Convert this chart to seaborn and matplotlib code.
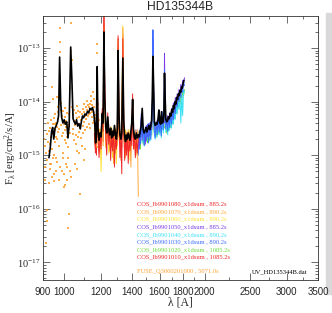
import matplotlib
matplotlib.use('Agg')
import matplotlib.pyplot as plt
import matplotlib.ticker as mticker
from matplotlib.patches import Rectangle
import seaborn as sns
import pandas as pd

# fluxes below are in units of 1e-15 erg/cm2/s/A
FLUX_UNIT = 1e-15

# FUSE points (orange dots)
fuse_wave = [906, 908, 909, 911, 913, 914, 916, 917, 919, 920, 922, 923, 925, 926, 928, 930, 931, 933, 935, 936,
             938, 939, 941, 943, 944, 946, 948, 949, 951, 953, 954, 956, 958, 960, 962, 964, 965, 967, 969, 971,
             973, 975, 977, 978, 979, 981, 983, 985, 987, 989, 991, 993, 995, 997, 999, 1001, 1003, 1005, 1008, 1010,
             1012, 1014, 1016, 1018, 1020, 1022, 1024, 1026, 1028, 1031, 1033, 1036, 1038, 1040, 1042, 1045, 1047, 1050, 1052, 1055,
             1058, 1060, 1063, 1066, 1068, 1071, 1074, 1077, 1080, 1082, 1085, 1088, 1091, 1094, 1097, 1100, 1103, 1106, 1109, 1112,
             1115, 1118, 1121, 1124, 1127, 1130, 1133, 1136, 1139, 1142, 1145, 1148, 1151, 1154, 1157, 1160, 1163, 1166, 1169, 1172,
             1175, 1176, 1177, 1179, 1181, 1183, 1186,
             957, 963, 968, 974, 986, 994, 1002, 1007, 1013, 1023, 1044, 1049, 1057, 1062, 1069, 1076, 1083, 1090, 1096, 1104,
             1110, 1116, 1123, 1129, 1135, 1141, 1147, 1153, 1159, 1165, 1171, 1184,
             948, 972, 990, 1004, 1035, 1065, 1100, 932, 940, 945, 952, 959, 966, 980, 992, 998, 1006, 1011, 1019, 1027]
fuse_flux = [2.0, 0.6, 1.5, 0.35, 0.023, 1.1, 0.06, 2.5, 0.095, 0.8, 4.0, 1.8, 0.3, 1.2, 2.8, 0.55, 1.6, 3.2, 2.2, 0.7,
             4.5, 19, 2.6, 1.3, 3.8, 11, 2.4, 5.0, 0.33, 1.8, 3.0, 6.0, 2.2, 0.9, 4.0, 12, 3.4, 6.5, 2.7, 4.8,
             1.5, 9.0, 85, 130, 240, 30, 7.0, 3.6, 5.5, 2.3, 4.2, 6.8, 1.1, 3.9, 0.25, 5.2, 2.9, 7.5, 1.7, 4.4,
             2.2, 0.6, 3.3, 0.044, 1.4, 5.8, 0.08, 2.6, 18, 300, 90, 45, 60, 8.0, 3.1, 5.6, 1.9, 4.3, 0.7, 3.6,
             6.2, 2.4, 4.9, 1.2, 3.8, 6.6, 2.7, 5.1, 0.19, 3.2, 4.6, 2.1, 5.9, 3.5, 7.2, 4.1, 6.4, 1.3, 5.3, 8.1,
             4.7, 6.9, 10.5, 5.5, 7.8, 3.9, 9.2, 6.1, 12.5, 7.4, 5.2, 8.8, 15, 6.7, 4.4, 7.9, 3.1, 1.6, 2.4, 5.0,
             120, 80, 35, 9.0, 2.2, 1.4, 3.0,
             3.9, 2.0, 8.0, 3.1, 9.5, 2.6, 1.9, 3.4, 6.1, 3.7, 2.5, 7.1, 1.6, 8.4, 2.2, 1.1, 6.3, 1.5, 2.6, 9.1,
             2.9, 3.3, 8.6, 5.9, 3.2, 10.2, 6.3, 4.0, 11.0, 5.6, 3.6, 4.6,
             0.45, 0.35, 0.5, 0.28, 0.4, 0.55, 0.8, 0.7, 0.4, 0.9, 1.0, 0.5, 0.75, 0.6, 0.9, 0.45, 0.7, 0.35, 0.9, 0.5]

# COS G130M exposures
g130_wave = [1160, 1166, 1172, 1176, 1181, 1187, 1193, 1199, 1206, 1211, 1216, 1221, 1227, 1233, 1239, 1245,
             1251, 1257, 1263, 1269, 1275, 1281, 1287, 1293, 1299, 1304, 1310, 1316, 1322, 1328, 1335, 1341,
             1347, 1353, 1359, 1365, 1371, 1377, 1383, 1389, 1395, 1401, 1407, 1413, 1420, 1427, 1434, 1441]
cos_1080 = [2.6, 1.1, 2.9, 38, 2.2, 0.9, 2.4, 1.3, 7.5, 2.8, 600, 16, 2.1, 1.0, 6.2, 1.6,
            3.1, 0.8, 2.5, 1.2, 2.9, 0.6, 2.4, 1.3, 2.7, 170, 3.8, 0.9, 2.3, 0.45, 150, 3.6,
            0.8, 2.2, 1.0, 2.6, 0.7, 2.1, 1.2, 2.8, 1.5, 14, 1.3, 2.4, 0.9, 2.2, 1.1, 2.0]
cos_1070 = [1.8, 3.2, 1.4, 25, 1.6, 3.0, 1.1, 2.9, 4.0, 1.5, 300, 8, 3.3, 1.8, 3.9, 2.7,
            1.2, 3.4, 1.4, 3.0, 0.7, 2.8, 1.1, 3.1, 1.5, 120, 2.2, 3.0, 0.8, 2.9, 240, 1.9,
            3.1, 0.9, 2.7, 1.2, 3.0, 1.4, 2.6, 0.6, 3.2, 9, 2.6, 1.8, 2.9, 1.0, 3.0, 0.17]
cos_1060 = [3.0, 1.5, 3.4, 20, 2.8, 1.2, 3.1, 0.5, 5.5, 2.6, 250, 10, 1.4, 3.0, 5.0, 1.1,
            2.9, 1.6, 3.3, 0.9, 2.6, 1.7, 3.2, 0.7, 2.5, 140, 1.9, 2.7, 1.5, 3.0, 260, 2.4,
            1.2, 3.0, 1.7, 2.5, 1.3, 2.9, 0.8, 2.5, 1.9, 11, 2.9, 1.3, 2.6, 1.8, 2.3, 2.8]
cos_1010 = [2.0, 2.7, 1.0, 30, 3.0, 1.6, 2.8, 1.9, 6.5, 1.8, 450, 14, 2.6, 2.2, 4.5, 2.3,
            1.5, 2.6, 1.9, 2.4, 1.6, 3.2, 1.8, 2.2, 1.9, 150, 2.9, 1.7, 2.8, 1.4, 180, 2.7,
            2.0, 1.4, 2.3, 1.6, 2.4, 1.8, 2.3, 1.7, 2.6, 12, 1.9, 2.1, 1.5, 2.5, 1.7, 2.3]

# COS G160M exposures
g160_wave = [1400, 1408, 1416, 1424, 1432, 1440, 1448, 1456, 1462, 1468, 1476, 1484, 1492, 1500, 1508, 1516,
             1524, 1532, 1540, 1545, 1549, 1553, 1558, 1566, 1574, 1582, 1590, 1598, 1606, 1614, 1622, 1630,
             1636, 1640, 1644, 1650, 1658, 1666, 1674, 1682, 1690, 1698, 1706, 1714, 1722, 1730, 1738, 1746,
             1754, 1762, 1770, 1778, 1786, 1794, 1802, 1810]
cos_1050 = [6.0, 2.4, 1.7, 3.0, 1.5, 2.7, 1.3, 3.2, 5.0, 1.9, 3.3, 2.6, 1.6, 3.6, 2.2, 3.9,
            2.3, 4.2, 3.0, 10, 150, 25, 4.1, 3.0, 3.1, 4.6, 3.2, 5.2, 3.3, 5.4, 4.0, 5.2,
            4.0, 80, 12, 4.6, 3.8, 5.5, 4.0, 6.2, 4.6, 7.5, 5.6, 9.5, 7.0, 12, 9.0, 14,
            11, 17, 14, 21, 17, 25, 22, 28]
cos_1040 = [7.0, 1.6, 2.4, 1.3, 2.2, 1.6, 1.5, 2.5, 4.0, 1.7, 2.8, 1.5, 3.0, 1.8, 3.2, 1.7,
            3.4, 1.9, 3.7, 9, 120, 20, 2.7, 2.0, 3.5, 2.2, 4.0, 2.4, 3.7, 2.1, 4.8, 2.6,
            4.2, 30, 7, 2.7, 3.9, 2.4, 4.2, 2.9, 4.7, 3.2, 5.4, 3.8, 6.4, 4.7, 8.2, 5.9,
            9.6, 7.2, 11.5, 4.0, 13.5, 5.5, 16.5, 15]
cos_1030 = [8.0, 1.6, 2.8, 1.3, 2.5, 1.0, 2.9, 1.6, 6.0, 2.2, 3.6, 1.5, 3.4, 1.9, 3.8, 1.7,
            4.0, 2.0, 4.6, 12, 220, 30, 3.2, 2.1, 4.2, 2.4, 5.0, 2.7, 4.4, 2.3, 6.5, 3.0,
            5.0, 40, 9, 3.1, 4.9, 2.8, 5.2, 3.3, 6.0, 3.8, 7.0, 4.6, 8.5, 6.0, 11, 8.0,
            13, 10, 16, 12, 19, 15, 23, 20]
cos_1020 = [5.0, 2.0, 1.4, 2.4, 1.2, 2.1, 1.7, 1.3, 4.5, 2.5, 1.6, 2.9, 1.8, 3.1, 1.7, 3.3,
            1.9, 3.5, 2.4, 8, 100, 18, 2.8, 3.4, 2.2, 3.7, 2.5, 4.0, 2.6, 4.1, 3.0, 3.9,
            3.2, 25, 6, 3.5, 2.6, 4.1, 2.9, 4.6, 3.3, 5.3, 3.9, 6.4, 4.8, 7.9, 6.0, 9.5,
            7.4, 11, 9, 13, 11, 15, 13, 17]

# binned spectrum UV_HD135344B.dat (black)
bin_wave = [927, 933, 939, 944, 949, 955, 961, 967, 972, 977, 982, 987, 993, 999, 1005, 1012, 1018, 1024, 1032, 1038,
            1044, 1050, 1056, 1062, 1068, 1075, 1082, 1088, 1094, 1100, 1107, 1114, 1121, 1128, 1135, 1142, 1149, 1156, 1162, 1167,
            1171, 1176, 1181, 1187, 1193, 1199, 1206, 1211, 1216, 1221, 1227, 1233, 1239, 1245, 1251, 1257, 1263, 1269, 1275, 1281,
            1287, 1293, 1299, 1304, 1310, 1316, 1322, 1328, 1335, 1341, 1347, 1353, 1359, 1365, 1371, 1377, 1383, 1389, 1395, 1401,
            1407, 1413, 1420, 1427, 1434, 1441, 1448, 1455, 1462, 1469, 1476, 1483, 1490, 1497, 1504, 1511, 1518, 1525, 1532, 1539,
            1544, 1549, 1554, 1560, 1567, 1574, 1581, 1588, 1595, 1602, 1609, 1616, 1623, 1630, 1635, 1640, 1645, 1651, 1658, 1665,
            1672, 1679, 1686, 1693, 1700, 1707, 1714, 1721, 1728, 1735, 1742, 1749, 1756, 1763, 1770, 1777, 1784, 1791, 1798, 1805]
bin_flux = [0.9, 1.4, 2.8, 3.3, 2.0, 3.2, 3.6, 4.2, 5.5, 68, 10, 5.0, 4.0, 4.6, 3.8, 4.2, 2.1, 3.5, 105, 26,
            4.8, 4.2, 3.8, 4.6, 3.5, 3.9, 3.1, 4.3, 5.4, 5.0, 5.9, 5.6, 6.6, 6.2, 7.5, 7.0, 7.8, 6.4, 4.0, 1.7,
            2.2, 45, 3.0, 1.9, 2.6, 2.2, 6.0, 4.0, 200, 12, 3.4, 2.6, 5.2, 3.0, 2.4, 3.2, 2.1, 2.8, 2.3, 3.6,
            2.5, 2.0, 3.0, 90, 5.5, 2.4, 2.0, 2.6, 65, 4.5, 2.2, 1.8, 2.4, 2.0, 2.6, 2.2, 1.9, 2.8, 4.0, 11,
            3.0, 2.2, 2.0, 2.6, 2.1, 2.4, 2.2, 2.8, 3.6, 7.5, 3.0, 2.6, 2.9, 3.3, 2.7, 3.2, 3.6, 3.0, 3.4, 4.5,
            12, 70, 20, 4.2, 3.6, 4.0, 3.8, 4.6, 7.0, 4.2, 3.8, 6.5, 4.0, 4.4, 5.5, 34, 12, 4.6, 4.2, 4.4,
            5.2, 4.8, 6.0, 5.4, 7.2, 6.3, 8.5, 7.4, 10, 9.0, 12, 11, 14, 13, 16, 15, 19, 18, 22, 25]

cos_labels = ['COS_lb9901080_x1dsum , 885.2s', 'COS_lb9901070_x1dsum , 890.2s',
              'COS_lb9901060_x1dsum , 890.2s', 'COS_lb9901050_x1dsum , 885.2s',
              'COS_lb9901040_x1dsum , 890.2s', 'COS_lb9901030_x1dsum , 890.2s',
              'COS_lb9901020_x1dsum , 1085.2s', 'COS_lb9901010_x1dsum , 1085.2s']
cos_colors = ['#f02828', '#ffa83c', '#ffe030', '#7a3ce6', '#3ce0f5', '#3c6cff', '#6cdc3c', '#f02828']
fuse_label = 'FUSE_Q3060201000 , 5071.0s'
fuse_color = '#ffa030'
bin_label = 'UV_HD135344B.dat'

xtick_values = [900, 1000, 1200, 1400, 1600, 1800, 2000, 2500, 3000, 3500]
ytick_exponents = [-17, -16, -15, -14, -13]

sns.set_style('ticks')
plt.rcParams['mathtext.fontset'] = 'custom'
plt.rcParams['mathtext.rm'] = 'Liberation Serif'
plt.rcParams['mathtext.it'] = 'Liberation Serif:italic'

W, H = 332, 313
fig = plt.figure(figsize=(W / 100, H / 100), dpi=100)

# grey strip at the right edge of the image, behind everything
fig.patches.append(Rectangle((326 / W, 0.06), 6 / W, 0.90, transform=fig.transFigure,
                             color='#d9d9d9', zorder=-5))

ax = fig.add_axes([43 / W, 1 - 280 / H, (318 - 43) / W, (280 - 16) / H])
ax.patch.set_alpha(0)
ax.set_xscale('log')
ax.set_yscale('log')

# cos spectra, drawn bottom to top
g130 = {'1010': cos_1010, '1060': cos_1060, '1070': cos_1070, '1080': cos_1080}
g160 = {'1020': cos_1020, '1040': cos_1040, '1050': cos_1050, '1030': cos_1030}
color_of = {lab.split('_')[1][-4:]: c for lab, c in zip(cos_labels, cos_colors)}

for key, vals in g160.items():
    df = pd.DataFrame({'wave': g160_wave, 'flux': [v * FLUX_UNIT for v in vals]})
    sns.lineplot(data=df, x='wave', y='flux', ax=ax, color=color_of[key], lw=0.7,
                 sort=False, estimator=None, legend=False)
for key, vals in g130.items():
    df = pd.DataFrame({'wave': g130_wave, 'flux': [v * FLUX_UNIT for v in vals]})
    sns.lineplot(data=df, x='wave', y='flux', ax=ax, color=color_of[key], lw=0.7,
                 sort=False, estimator=None, legend=False)

fuse_df = pd.DataFrame({'wave': fuse_wave, 'flux': [v * FLUX_UNIT for v in fuse_flux]})
sns.scatterplot(data=fuse_df, x='wave', y='flux', ax=ax, color=fuse_color, marker='s',
                s=2.5, linewidth=0, alpha=0.85, legend=False)

bin_df = pd.DataFrame({'wave': bin_wave, 'flux': [v * FLUX_UNIT for v in bin_flux]})
sns.lineplot(data=bin_df, x='wave', y='flux', ax=ax, color='black', lw=1.2,
             sort=False, estimator=None, legend=False)

ax.set_xlim(900, 3500)
ax.set_ylim(10 ** -17.33, 10 ** -12.40)

ax.xaxis.set_major_locator(mticker.FixedLocator(xtick_values))
ax.xaxis.set_minor_locator(mticker.FixedLocator([1100, 1300, 1500, 1700, 1900, 2250, 2750, 3250]))
ax.xaxis.set_major_formatter(mticker.FixedFormatter([str(v) for v in xtick_values]))
ax.xaxis.set_minor_formatter(mticker.NullFormatter())
ax.yaxis.set_major_locator(mticker.FixedLocator([10.0 ** e for e in ytick_exponents]))
ax.yaxis.set_major_formatter(mticker.FixedFormatter([r'$10^{%d}$' % e for e in ytick_exponents]))
ax.yaxis.set_minor_locator(mticker.LogLocator(base=10, subs=range(2, 10), numticks=20))
ax.yaxis.set_minor_formatter(mticker.NullFormatter())

ax.tick_params(which='both', direction='in', top=True, right=True, width=0.5, color='#333333')
ax.tick_params(which='major', length=5)
ax.tick_params(which='minor', length=2.2)
ax.tick_params(axis='x', pad=5, labelsize=7)
ax.tick_params(axis='y', pad=2, labelsize=7.5)
for lab in ax.get_xticklabels():
    lab.set_family('Liberation Sans')
for sp in ax.spines.values():
    sp.set_linewidth(0.6)
    sp.set_color('#333333')

ax.set_title('HD135344B', fontsize=8.7, family='Liberation Sans', pad=4)
ax.set_xlabel('λ [A]', family='Liberation Serif', fontsize=8.5, labelpad=0)
ax.set_ylabel(r'F$_{\mathrm{λ}}$ [erg/cm$^{2}$/s/A]', family='Liberation Serif', fontsize=7.8)
ax.yaxis.set_label_coords(-0.088, 0.5)

for i, (lab, c) in enumerate(zip(cos_labels, cos_colors)):
    fig.text(137 / W, 1 - (204 + 7.6 * i) / H, lab, color=c, fontsize=4.7,
             family='Liberation Serif', va='center', ha='left')
fig.text(137 / W, 1 - 272 / H, fuse_label, color=fuse_color, fontsize=4.7,
         family='Liberation Serif', va='center', ha='left')
fig.text(252 / W, 1 - 272 / H, bin_label, color='black', fontsize=4.7,
         family='Liberation Serif', va='center', ha='left')

fig.savefig('out.png', dpi=100)
